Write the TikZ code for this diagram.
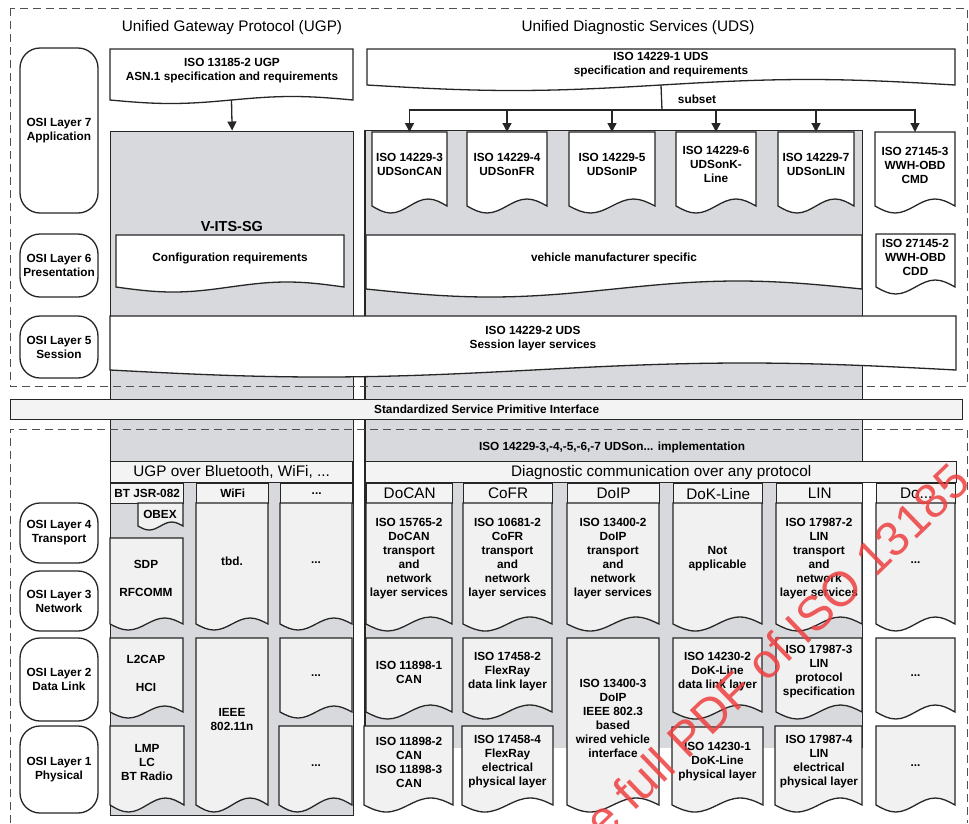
\documentclass[tikz,border=0pt]{standalone}
\usepackage{fontspec}
\setmainfont{Liberation Sans}
\usetikzlibrary{arrows.meta,calc}

\definecolor{colgray}{RGB}{216,217,220}
\definecolor{cellfill}{RGB}{241,241,241}
\definecolor{barfill}{RGB}{243,243,243}
\definecolor{ink}{RGB}{38,38,38}
\definecolor{dashgray}{RGB}{80,80,80}
\definecolor{stamp}{RGB}{238,64,64}

% document shape with a one-period wavy lower edge
% \wavydoc[style]{name}{x1}{y1}{x2}{y2}{amplitude}
\newcommand{\wavydoc}[7][doc]{%
  \pgfmathsetmacro{\wq}{(#5-#3)/4}%
  \draw[#1] (#3,#4) -- (#5,#4) -- (#5,#6)
     sin ++(-\wq,-#7) cos ++(-\wq,#7) sin ++(-\wq,#7) cos ++(-\wq,-#7) -- cycle;
  \coordinate (#2-top) at ({(#3+#5)/2},#4);
  \coordinate (#2-bot) at ({(#3+#5)/2},#6);
}

\begin{document}
\begin{tikzpicture}[x=1pt,y=-1pt,
  inkline/.style={draw=ink, line width=1.3pt},
  doc/.style={inkline, fill=white},
  celldoc/.style={inkline, fill=cellfill},
  txt/.style={font=\fontsize{11.8}{14}\selectfont\bfseries, align=center, inner sep=0pt, text=black},
  head/.style={font=\fontsize{15.3}{18}\selectfont, inner sep=0pt, text=black},
  layerbox/.style={inkline, fill=white, rounded corners=20pt, minimum width=78pt, inner sep=0pt,
    align=center, font=\fontsize{11.8}{14}\selectfont\bfseries},
  colbox/.style={inkline, fill=colgray, inner sep=0pt, anchor=north west},
  barbox/.style={inkline, fill=barfill, inner sep=0pt, anchor=north west, minimum height=21pt},
  hdrbox/.style={inkline, fill=barfill, inner sep=0pt, anchor=north west, minimum height=20pt},
  zone/.style={draw=dashgray, line width=1pt, dash pattern=on 8pt off 5pt},
  link/.style={draw=ink, line width=1.3pt},
  tip/.style={-{Triangle[length=9pt,width=9pt]}},
]
\useasboundingbox (0,0) rectangle (969,823);

% ---------- column backgrounds ----------
\node[colbox, minimum width=243pt, minimum height=684pt] (ugpcol) at (110,130.5) {};
\node[fill=colgray, inner sep=0pt, anchor=north west, minimum width=497pt, minimum height=617pt] (udscol) at (365,130.5) {};
\draw[inkline] (udscol.south west) -- (udscol.north west) -- (udscol.north east) -- (udscol.south east);

% ---------- headings ----------
\node[head] (hUgp) at (232,28) {Unified Gateway Protocol (UGP)};
\node[head] (hUds) at (638,28) {Unified Diagnostic Services (UDS)};

% ---------- application / presentation / session ----------
\wavydoc{ugpdoc}{110}{49}{353}{100}{3.5}
\wavydoc{udsdoc}{367}{49}{955}{85}{5.5}
\wavydoc{udsA}{372}{132}{447}{206}{7}
\wavydoc{udsB}{467}{132}{547}{206}{7}
\wavydoc{udsC}{569}{132}{655}{206}{7}
\wavydoc{udsD}{676}{132}{756}{206}{7}
\wavydoc{udsE}{778}{132}{854}{206}{7}
\wavydoc{obdA}{875}{132}{955}{206}{7}
\wavydoc{obdB}{876}{234}{955}{287}{7}
\wavydoc{vmdoc}{366}{235}{862}{289}{8}
\wavydoc{cfgdoc}{116}{235}{344}{287}{5}
\wavydoc{sesdoc}{110}{316}{956}{370}{7}

\node[txt] (tUgpSpec) at (232,70.5) {ISO 13185-2 UGP\\ASN.1 specification and requirements};
\node[txt] (tUdsSpec) at (661,64.5) {ISO 14229-1 UDS\\specification and requirements};
\node[txt] (tSubset) at (697,99) {subset};
\node[txt] (tA) at (409.5,164.5) {ISO 14229-3\\UDSonCAN};
\node[txt] (tB) at (507,164.5) {ISO 14229-4\\UDSonFR};
\node[txt] (tC) at (612,164.5) {ISO 14229-5\\UDSonIP};
\node[txt] (tD) at (716,164.5) {ISO 14229-6\\UDSonK-\\Line};
\node[txt] (tE) at (816,164.5) {ISO 14229-7\\UDSonLIN};
\node[txt] (tObdA) at (915,165) {ISO 27145-3\\WWH-OBD\\CMD};
\node[txt] (tObdB) at (915.5,257) {ISO 27145-2\\WWH-OBD\\CDD};
\node[font=\fontsize{14.5}{17}\selectfont\bfseries, inner sep=0pt] (tVits) at (232,227) {V-ITS-SG};
\node[txt] (tCfg) at (230,258) {Configuration requirements};
\node[txt] (tVm) at (614,258) {vehicle manufacturer specific};
\node[txt] (tSes) at (533,339) {ISO 14229-2 UDS\\Session layer services};

% ---------- lower layers: bars and column heads ----------
\node[txt] (tImpl) at (612,447) {ISO 14229-3,-4,-5,-6,-7 UDSon... implementation};
\node[barbox, minimum width=242pt, font=\fontsize{15.3}{18}\selectfont] (ugpover) at (110,461) {UGP over Bluetooth, WiFi, ...};
\node[barbox, minimum width=591pt, font=\fontsize{15.3}{18}\selectfont] (diagover) at (365,461) {Diagnostic communication over any protocol};

\node[hdrbox, minimum width=73pt, font=\fontsize{11.8}{14}\selectfont\bfseries] (hBT) at (110,483) {BT JSR-082};
\node[hdrbox, minimum width=72pt, font=\fontsize{11.8}{14}\selectfont\bfseries] (hWiFi) at (196,483) {WiFi};
\node[hdrbox, minimum width=72pt, font=\fontsize{11.8}{14}\selectfont\bfseries] (hMore) at (280,483) {...};
\node[hdrbox, minimum width=86pt, font=\fontsize{15.3}{18}\selectfont] (hDoCAN) at (366,483) {DoCAN};
\node[hdrbox, minimum width=89pt, font=\fontsize{15.3}{18}\selectfont] (hCoFR) at (463,483) {CoFR};
\node[hdrbox, minimum width=92pt, font=\fontsize{15.3}{18}\selectfont] (hDoIP) at (567,483) {DoIP};
\node[hdrbox, minimum width=89pt, font=\fontsize{15.3}{18}\selectfont] (hDoK) at (673,483) {DoK-Line};
\node[hdrbox, minimum width=86pt, font=\fontsize{15.3}{18}\selectfont] (hLIN) at (776,483) {LIN};
\node[hdrbox, minimum width=79pt, font=\fontsize{15.3}{18}\selectfont] (hDo) at (876,483) {Do...};

% ---------- UGP protocol cells ----------
\wavydoc[celldoc]{obex}{138}{503}{183}{526}{4}
\wavydoc[celldoc]{sdp}{110}{538}{183}{624}{6}
\wavydoc[celldoc]{l2cap}{110}{638}{183}{712}{6}
\wavydoc[celldoc]{lmp}{110}{726}{184}{805}{7}
\wavydoc[celldoc]{tbd}{196}{503}{268}{624}{6}
\wavydoc[celldoc]{ieee}{196}{638}{268}{805}{7}
\wavydoc[celldoc]{moreA}{280}{503}{352}{624}{6}
\wavydoc[celldoc]{moreB}{280}{638}{352}{712}{6}
\wavydoc[celldoc]{moreC}{279}{726}{352}{805}{7}

\node[txt] (tObex) at (160,514) {OBEX};
\node[txt] (tSdp) at (146,564) {SDP};
\node[txt] (tRfc) at (146,592) {RFCOMM};
\node[txt] (tL2) at (146,659) {L2CAP};
\node[txt] (tHci) at (146,687) {HCI};
\node[txt] (tLmp) at (147,762) {LMP\\LC\\BT Radio};
\node[txt] (tTbd) at (232,561) {tbd.};
\node[txt] (tIeee) at (232,719) {IEEE\\802.11n};
\node[txt] (tMoreA) at (316,563) {...};
\node[txt] (tMoreB) at (316,676) {...};
\node[txt] (tMoreC) at (316,766) {...};

% ---------- UDS protocol cells ----------
% DoCAN
\wavydoc[celldoc]{canA}{366}{503}{452}{624}{7}
\wavydoc[celldoc]{canB}{366}{638}{452}{712}{7}
\wavydoc[celldoc]{canC}{364}{726}{453}{805}{7}
% CoFR
\wavydoc[celldoc]{frA}{463}{503}{552}{624}{7}
\wavydoc[celldoc]{frB}{463}{638}{552}{712}{7}
\wavydoc[celldoc]{frC}{462}{726}{553}{805}{7}
% DoIP
\wavydoc[celldoc]{ipA}{567}{503}{659}{624}{7}
\wavydoc[celldoc]{ipB}{567}{638}{659}{805}{7}
% DoK-Line
\wavydoc[celldoc]{kA}{673}{503}{762}{624}{7}
\wavydoc[celldoc]{kB}{673}{638}{762}{712}{7}
\wavydoc[celldoc]{kC}{672}{727}{763}{805}{7}
% LIN
\wavydoc[celldoc]{linA}{776}{503}{862}{624}{7}
\wavydoc[celldoc]{linB}{776}{638}{862}{712}{7}
\wavydoc[celldoc]{linC}{775}{726}{862}{805}{7}
% further protocols
\wavydoc[celldoc]{doA}{876}{503}{955}{624}{7}
\wavydoc[celldoc]{doB}{876}{638}{955}{712}{7}
\wavydoc[celldoc]{doC}{876}{726}{955}{805}{7}

\node[txt] (tCanA) at (409,559) {ISO 15765-2\\DoCAN\\transport\\and\\network\\layer services};
\node[txt] (tCanB) at (409,672) {ISO 11898-1\\CAN};
\node[txt] (tCanC) at (409,762) {ISO 11898-2\\CAN\\ISO 11898-3\\CAN};
\node[txt] (tFrA) at (507.5,559) {ISO 10681-2\\CoFR\\transport\\and\\network\\layer services};
\node[txt] (tFrB) at (507.5,672) {ISO 17458-2\\FlexRay\\data link layer};
\node[txt] (tFrC) at (507.5,762) {ISO 17458-4\\FlexRay\\electrical\\physical layer};
\node[txt] (tIpA) at (613,559) {ISO 13400-2\\DoIP\\transport\\and\\network\\layer services};
\node[txt] (tIpB) at (613,718) {ISO 13400-3\\DoIP\\IEEE 802.3\\based\\wired vehicle\\interface};
\node[txt] (tKA) at (717.5,559) {Not\\applicable};
\node[txt] (tKB) at (717.5,672) {ISO 14230-2\\DoK-Line\\data link layer};
\node[txt] (tKC) at (717.5,762) {ISO 14230-1\\DoK-Line\\physical layer};
\node[txt] (tLinA) at (819,559) {ISO 17987-2\\LIN\\transport\\and\\network\\layer services};
\node[txt] (tLinB) at (819,672) {ISO 17987-3\\LIN\\protocol\\specification};
\node[txt] (tLinC) at (819,762) {ISO 17987-4\\LIN\\electrical\\physical layer};
\node[txt] (tDoA) at (915.5,563) {...};
\node[txt] (tDoB) at (915.5,676) {...};
\node[txt] (tDoC) at (915.5,766) {...};

% ---------- service primitive interface ----------
\node[inkline, fill=barfill, inner sep=0pt, anchor=north west, minimum width=952pt, minimum height=20pt,
  font=\fontsize{11.8}{14}\selectfont\bfseries] (sspi) at (10,399) {Standardized Service Primitive Interface};

% ---------- OSI layer labels ----------
\node[layerbox, minimum height=165pt] (L7) at (59,130.5) {OSI Layer 7\\Application};
\node[layerbox, minimum height=63pt] (L6) at (59,265.5) {OSI Layer 6\\Presentation};
\node[layerbox, minimum height=62pt] (L5) at (59,347) {OSI Layer 5\\Session};
\node[layerbox, minimum height=60pt] (L4) at (59,533) {OSI Layer 4\\Transport};
\node[layerbox, minimum height=60pt] (L3) at (59,601) {OSI Layer 3\\Network};
\node[layerbox, minimum height=83pt] (L2) at (59,679.5) {OSI Layer 2\\Data Link};
\node[layerbox, minimum height=87pt] (L1) at (59,769.5) {OSI Layer 1\\Physical};

% ---------- upper and lower zones ----------
\draw[zone] (10,8) rectangle (967,386);
\draw[zone] (10,823) -- (10,429) -- (967,429) -- (967,823);

% ---------- connectors ----------
\draw[link,tip] (ugpdoc-bot) -- (ugpcol.north);
\coordinate (fork) at (662,110);
\draw[link] (udsdoc-bot) -- (fork);
\foreach \d in {udsA,udsB,udsC,udsD,udsE,obdA}
  \draw[link,tip] (fork) -| (\d-top);

% ---------- stamp ----------
\begin{scope}
\clip (0,0) rectangle (969,823);
\node[text=stamp, opacity=0.85, font=\fontsize{48.5}{48}\selectfont, rotate=44, inner sep=0pt, anchor=base west] (stampText) at (604,841) {e full PDF of ISO 13185};
\end{scope}
\end{tikzpicture}
\end{document}
